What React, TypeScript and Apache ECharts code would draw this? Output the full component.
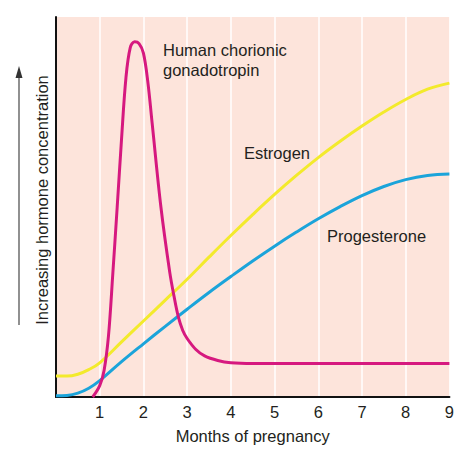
import React, { useEffect, useRef } from "react";
import * as echarts from "echarts";

// Months of pregnancy (x) and relative hormone concentration (y, 0–100)
const hcgMonths = [0.84, 1.0, 1.1, 1.2, 1.3, 1.4, 1.5, 1.6, 1.7, 1.8, 1.9, 2.0, 2.1, 2.2, 2.4, 2.6, 2.7, 2.8, 2.9, 3.0, 3.2, 3.4, 3.7, 4.0, 4.5, 9.0];
const hcgValues = [0, 3, 7, 16, 32.5, 50, 68, 84, 92, 93.5, 93, 90.5, 83, 72, 50, 33, 26.5, 21, 17.5, 15.4, 12.5, 10.8, 9.6, 9.0, 8.8, 8.8];

const steroidMonths = [0, 0.25, 0.5, 0.75, 1.0, 1.5, 2.0, 2.5, 3.0, 3.5, 4.0, 4.5, 5.0, 5.5, 6.0, 6.5, 7.0, 7.5, 8.0, 8.5, 9.0];
const estrogenValues = [5.5, 5.5, 6, 7.2, 9, 14.5, 20, 25.5, 31, 36.8, 42.5, 48, 53.3, 58.3, 63, 67.3, 71.3, 75, 78.3, 81, 82.6];
const progesteroneValues = [0.3, 0.4, 1, 2.3, 4.3, 9.3, 14, 18.6, 23.1, 27.5, 31.7, 35.8, 39.7, 43.4, 46.9, 50.1, 53, 55.4, 57.2, 58.3, 58.7];

const monthTicks = [1, 2, 3, 4, 5, 6, 7, 8, 9];

const FONT = "'Liberation Sans', Arial, Helvetica, sans-serif";
const TEXT = "#231f20";
const FS = 16.5;

const pairs = (xs: number[], ys: number[]) => xs.map((x, i) => [x, ys[i]]);

export default function App() {
  const ref = useRef<HTMLDivElement>(null);

  useEffect(() => {
    document.body.style.margin = "0";
    if (!ref.current) return;
    const chart = echarts.init(ref.current, undefined, { renderer: "svg" });
    chart.setOption({
      animation: false,
      backgroundColor: "#ffffff",
      grid: {
        left: 56,
        right: 6,
        top: 17,
        bottom: 57,
        show: true,
        backgroundColor: "#fde4db",
        borderWidth: 0,
      },
      xAxis: {
        type: "value",
        min: 0,
        max: 9,
        interval: 1,
        name: "Months of pregnancy",
        nameLocation: "middle",
        nameGap: 30,
        nameTextStyle: { fontFamily: FONT, fontSize: FS, color: TEXT },
        axisLine: { show: true, onZero: false, lineStyle: { color: "#111", width: 2 } },
        axisTick: { show: false },
        axisLabel: {
          margin: 6,
          fontFamily: FONT,
          fontSize: FS,
          color: TEXT,
          formatter: (v: number) => (monthTicks.includes(v) ? String(v) : ""),
        },
        splitLine: { show: true, lineStyle: { color: "#ffffff", width: 1.5 } },
      },
      yAxis: {
        type: "value",
        min: 0,
        max: 100,
        axisLine: { show: true, onZero: false, lineStyle: { color: "#111", width: 2 } },
        axisTick: { show: false },
        axisLabel: { show: false },
        splitLine: { show: false },
      },
      series: [
        {
          name: "Estrogen",
          type: "line",
          data: pairs(steroidMonths, estrogenValues),
          smooth: 0.4,
          showSymbol: false,
          lineStyle: { color: "#f3ea2c", width: 3 },
          z: 3,
        },
        {
          name: "Progesterone",
          type: "line",
          data: pairs(steroidMonths, progesteroneValues),
          smooth: 0.4,
          showSymbol: false,
          lineStyle: { color: "#1ba4da", width: 3 },
          z: 4,
        },
        {
          name: "Human chorionic gonadotropin",
          type: "line",
          data: pairs(hcgMonths, hcgValues),
          smooth: 0.35,
          showSymbol: false,
          lineStyle: { color: "#d6197f", width: 3 },
          z: 5,
        },
      ],
      graphic: [
        {
          type: "line",
          z: 100,
          shape: { x1: 19, y1: 325, x2: 19, y2: 74 },
          style: { stroke: "#555", lineWidth: 1.3 },
        },
        {
          type: "polygon",
          z: 100,
          shape: { points: [[15.5, 78], [19, 66], [22.5, 78]] },
          style: { fill: "#333" },
        },
        {
          type: "text",
          z: 100,
          x: 42,
          y: 200,
          rotation: Math.PI / 2,
          style: {
            text: "Increasing hormone concentration",
            fontFamily: FONT,
            fontSize: FS,
            fill: TEXT,
            textAlign: "center",
            textVerticalAlign: "middle",
          },
        },
        {
          type: "text",
          z: 100,
          x: 163,
          y: 40,
          style: {
            text: "Human chorionic\ngonadotropin",
            fontFamily: FONT,
            fontSize: FS,
            lineHeight: 20,
            fill: TEXT,
            textAlign: "left",
            textVerticalAlign: "top",
          },
        },
        {
          type: "text",
          z: 100,
          x: 244,
          y: 153,
          style: {
            text: "Estrogen",
            fontFamily: FONT,
            fontSize: FS,
            fill: TEXT,
            textAlign: "left",
            textVerticalAlign: "middle",
          },
        },
        {
          type: "text",
          z: 100,
          x: 327,
          y: 236,
          style: {
            text: "Progesterone",
            fontFamily: FONT,
            fontSize: FS,
            fill: TEXT,
            textAlign: "left",
            textVerticalAlign: "middle",
          },
        },
      ],
    });
    return () => chart.dispose();
  }, []);

  return <div ref={ref} style={{ width: 457, height: 454 }} />;
}
